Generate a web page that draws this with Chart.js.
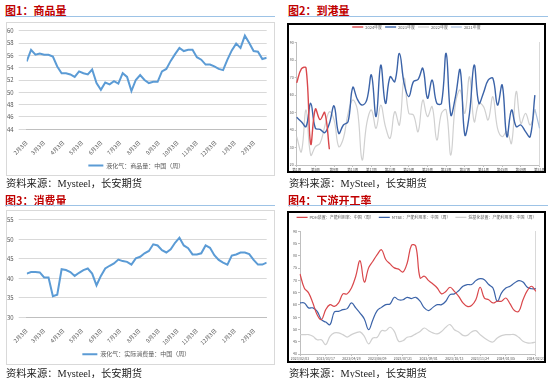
<!DOCTYPE html>
<html>
<head>
<meta charset="utf-8">
<script src="https://cdn.jsdelivr.net/npm/chart.js@4.4.1/dist/chart.umd.min.js"></script>
<style>
  body { margin: 0; width: 550px; height: 378px; background: #fff; position: relative; overflow: hidden; }
  .titulo { position: absolute; font: bold 11px "Noto Sans CJK SC", sans-serif; color: #c00000; line-height: 12px; white-space: nowrap; }
  .raya { position: absolute; height: 1.5px; background: #9dc3e6; }
  canvas { position: absolute; }
  .marco { position: absolute; box-sizing: border-box; pointer-events: none; }
  .fuente { position: absolute; font: 10.3px "Liberation Serif", "Noto Sans CJK SC", serif; line-height: 11px; color: #222; white-space: nowrap; }
</style>
</head>
<body>
<div class="titulo" style="left:5px;top:4px">图1：商品量</div>
<div class="raya" style="left:5px;top:15.5px;width:270px"></div>
<canvas id="c1" width="269" height="154" style="left:6px;top:22px"></canvas>
<div class="marco" style="left:6px;top:22px;width:269px;height:154px;border:1px solid #d9d9d9"></div>
<div class="fuente" style="left:6px;top:178px">资料来源：Mysteel，长安期货</div>

<div class="titulo" style="left:288px;top:4px">图2：到港量</div>
<div class="raya" style="left:288px;top:15.5px;width:260px"></div>
<canvas id="c2" width="259" height="150" style="left:287px;top:23px"></canvas>
<div class="marco" style="left:287px;top:23px;width:259px;height:150px;border:2px solid #000"></div>
<div class="fuente" style="left:289px;top:178px">资料来源：MySteel，长安期货</div>

<div class="titulo" style="left:5px;top:194px">图3：消费量</div>
<div class="raya" style="left:5px;top:204.5px;width:270px"></div>
<canvas id="c3" width="269" height="155" style="left:6px;top:210px"></canvas>
<div class="marco" style="left:6px;top:210px;width:269px;height:155px;border:1px solid #d9d9d9"></div>
<div class="fuente" style="left:6px;top:368px">资料来源：Mysteel，长安期货</div>

<div class="titulo" style="left:288px;top:194px">图4：下游开工率</div>
<div class="raya" style="left:288px;top:204.5px;width:260px"></div>
<canvas id="c4" width="259" height="152" style="left:287px;top:211px"></canvas>
<div class="marco" style="left:287px;top:211px;width:259px;height:152px;border:2px solid #000"></div>
<div class="fuente" style="left:289px;top:368px">资料来源：MySteel，长安期货</div>

<script>
// 图1 / 图3: weekly, 2023-02-03 .. 2024-02-23
const monthTicks = ['2月3日', '3月3日', '4月3日', '5月3日', '6月3日', '7月3日', '8月3日', '9月3日', '10月3日', '11月3日', '12月3日', '1月3日', '2月3日']
const supply = [55.0, 56.9, 56.1, 56.3, 56.1, 56.1, 55.8, 54.2, 53.1, 53.1, 52.9, 52.5, 53.4, 53.1, 52.9, 53.7, 51.5, 50.4, 51.6, 51.3, 51.8, 51.4, 53.1, 52.5, 50.2, 52.0, 52.8, 52.0, 51.5, 51.7, 51.7, 53.4, 53.8, 55.1, 56.2, 57.2, 56.7, 56.9, 56.9, 55.7, 55.3, 54.5, 54.5, 54.2, 53.8, 53.6, 55.3, 56.8, 57.9, 57.2, 59.2, 58.0, 56.7, 56.6, 55.4, 55.6]
const consumption = [41.2, 41.6, 41.6, 41.5, 40.2, 40.2, 35.4, 35.8, 42.3, 42.1, 41.6, 40.6, 41.4, 42.1, 42.5, 41.2, 38.2, 40.6, 42.5, 43.2, 43.8, 44.8, 44.4, 44.2, 43.5, 45.1, 45.5, 46.4, 47.0, 48.7, 48.4, 47.2, 46.6, 47.4, 49.1, 50.4, 48.4, 47.7, 46.1, 46.1, 46.4, 48.4, 47.8, 45.9, 44.7, 44.0, 43.5, 45.8, 46.1, 46.6, 46.6, 46.2, 44.7, 43.5, 43.5, 44.0]

// 图2: week 1..53 of each year
const arrivals2024 = [67, 75, 75.5, 32, 52, 46, 50, 29]
const arrivals2023 = [47.3, 44.8, 42.0, 55.3, 41.0, 40.4, 38.5, 43.8, 53.8, 38.1, 42.9, 44.8, 64.4, 57.6, 54.3, 57.2, 71.5, 47.7, 77.2, 55.3, 70.5, 67.7, 83.9, 66.7, 59.1, 67.7, 69.0, 75.3, 58.2, 68.6, 55.3, 55.3, 83.9, 48.6, 59.1, 74.4, 37.2, 49.6, 77.2, 55.3, 61.4, 68.6, 69.6, 54.3, 65.8, 36.2, 51.5, 42.0, 42.9, 39.1, 36.2, 60.0, null]
const arrivals2022 = [36.2, 27.6, 51.5, 25.7, 30.5, 32.4, 42.0, 50.5, 45.8, 30.5, 35.3, 49.6, 57.2, 51.5, 22.9, 43.8, 51.5, 41.0, 54.3, 42.0, 35.3, 50.5, 42.9, 69.6, 49.6, 48.6, 39.1, 57.2, 47.7, 53.4, 34.3, 49.6, 51.5, 25.7, 55.3, 62.9, 49.6, 70.5, 44.8, 55.3, 53.4, 45.8, 59.1, 41.0, 36.2, 39.1, 32.4, 62.0, 43.8, 49.6, 42.9, 51.5, null]
const arrivals2021 = [null, null, null, null, null, null, null, null, null, null, null, null, null, null, null, null, null, null, null, null, null, null, null, null, null, null, null, null, null, null, null, null, null, null, null, null, null, null, null, null, null, null, null, null, null, null, null, null, null, null, null, 52, 41]
const weekLabels = Array.from({ length: 53 }, (_, i) => `第${i + 1}周`)

// 图4: weekly operating rates
const rateTicks = ['2023/02/03', '2023/03/17', '2023/04/28', '2023/06/09', '2023/07/21', '2023/09/01', '2023/10/13', '2023/11/24', '2024/01/05', '2024/02/23']
const pdhRate = [72.6, 66.9, 64.9, 60.8, 56.0, 54.0, 58.1, 60.1, 59.4, 60.8, 64.5, 64.5, 66.9, 71.7, 78.0, 69.3, 75.1, 77.8, 80.5, 82.5, 78.5, 76.7, 75.1, 74.6, 73.4, 77.1, 84.3, 83.9, 71.0, 71.7, 69.9, 68.5, 66.9, 64.5, 65.5, 67.2, 65.5, 63.5, 60.8, 59.4, 59.8, 62.1, 67.2, 62.8, 62.1, 60.8, 61.5, 61.5, 62.8, 60.4, 57.7, 57.4, 62.1, 65.8, 67.6, 65.5]
const mtbeRate = [60.8, 60.8, 58.8, 58.8, 57.4, 54.0, 53.0, 52.0, 57.1, 57.4, 58.1, 58.5, 60.8, 58.8, 56.7, 54.3, 49.9, 54.0, 57.7, 59.0, 60.1, 60.4, 63.1, 62.1, 62.1, 63.1, 62.6, 63.1, 61.5, 58.8, 57.7, 59.0, 60.1, 60.1, 61.5, 64.2, 64.5, 65.8, 67.6, 68.3, 68.3, 69.9, 70.7, 70.3, 68.3, 66.9, 61.5, 64.9, 66.9, 67.6, 68.9, 69.9, 69.3, 67.2, 66.6, 66.6]
const alkyRate = [47.9, 47.9, 47.9, 47.2, 45.8, 45.8, 43.8, 47.2, 48.6, 48.6, 47.9, 46.9, 47.9, 48.6, 49.0, 47.2, 44.1, 46.5, 46.8, 49.5, 49.5, 50.9, 49.2, 45.2, 45.4, 46.8, 47.2, 48.2, 49.2, 50.6, 49.5, 48.6, 48.2, 49.2, 50.9, 52.0, 49.9, 49.0, 47.6, 47.6, 49.0, 49.5, 47.9, 46.5, 45.4, 44.9, 46.5, 47.5, 47.9, 47.9, 47.9, 46.8, 45.2, 44.5, 44.5, 44.9]

const start = Date.UTC(2023, 1, 3)
const dayMs = 86400000
const monthDays = monthTicks.map((_, k) => (Date.UTC(2023, 1 + k, 3) - start) / dayMs)
const dateLabels = pdhRate.map((_, i) => {
  const d = new Date(start + i * 7 * dayMs)
  return `${d.getUTCFullYear()}/${String(d.getUTCMonth() + 1).padStart(2, '0')}/${String(d.getUTCDate()).padStart(2, '0')}`
})

Chart.defaults.font.family = '"Noto Sans CJK SC", "Noto Sans", sans-serif'
Chart.defaults.color = '#595959'

function weeklyChart(id, label, values, yMin, yMax, top, xHeight, bottom) {
  return new Chart(document.getElementById(id), {
    type: 'line',
    data: {
      datasets: [{
        label,
        data: values.map((v, i) => ({ x: i * 7, y: v })),
        borderColor: '#5b9bd5',
        borderWidth: 2,
        pointRadius: 0,
        tension: 0
      }]
    },
    options: {
      responsive: false,
      animation: false,
      layout: { padding: { left: 0, top, right: 8.3, bottom } },
      plugins: {
        legend: { position: 'bottom', labels: { font: { size: 6 }, padding: 4, usePointStyle: true, pointStyle: 'line', pointStyleWidth: 15 } },
        tooltip: { enabled: false }
      },
      scales: {
        x: {
          type: 'linear', min: 0, max: (values.length - 1) * 7,
          afterBuildTicks: s => { s.ticks = monthDays.map(v => ({ value: v })) },
          afterFit: s => { s.height = xHeight },
          ticks: { font: { size: 5.5 }, minRotation: 45, maxRotation: 45, padding: 2, autoSkip: false, callback: (v, i) => monthTicks[i] },
          grid: { display: false },
          border: { color: '#bfbfbf' }
        },
        y: {
          min: yMin, max: yMax,
          afterFit: s => { s.width = 20.7 },
          ticks: { font: { size: 6 }, padding: 5, stepSize: yMin === 44 ? 2 : 5 },
          grid: { color: '#d9d9d9' },
          border: { display: false }
        }
      }
    }
  })
}

weeklyChart('c1', '液化气：商品量：中国（周）', supply, 44, 60, 8.7, 29.2, -2.5)
weeklyChart('c3', '液化气：实际消费量：中国（周）', consumption, 30, 55, 9.7, 29.9, -2.2)

function smoothChart(id, labels, datasets, yMin, yMax, step, opts) {
  return new Chart(document.getElementById(id), {
    type: 'line',
    data: {
      labels,
      datasets: datasets.map(d => ({ ...d, pointRadius: 0, tension: 0.4, spanGaps: false }))
    },
    options: {
      responsive: false,
      animation: false,
      layout: { padding: { left: 0, top: opts.top, right: 0, bottom: 0 } },
      plugins: {
        legend: { position: 'top', labels: { font: { size: 4 }, padding: opts.legendPad, usePointStyle: true, pointStyle: 'line', pointStyleWidth: 11 } },
        tooltip: { enabled: false }
      },
      scales: {
        x: {
          afterBuildTicks: s => { s.ticks = s.ticks.filter(t => opts.showTick(t.value)) },
          afterFit: s => { s.height = opts.xHeight },
          ticks: { font: { size: 3.5 }, padding: 1, maxRotation: 0, autoSkip: false },
          grid: { drawOnChartArea: false, tickLength: 2, color: '#bfbfbf' },
          border: { color: '#bfbfbf' }
        },
        xTop: {
          type: 'linear', position: 'top', min: 0, max: 1,
          afterFit: s => { s.height = opts.gap },
          ticks: { display: false }, grid: { display: false }, border: { display: false }
        },
        y: {
          min: yMin, max: yMax,
          afterFit: s => { s.width = opts.yWidth },
          ticks: { font: { size: 3.5 }, padding: 1, stepSize: step },
          grid: { drawOnChartArea: false, tickLength: 2, color: '#bfbfbf' },
          border: { color: '#bfbfbf' }
        },
        y2: {
          position: 'right', min: yMin, max: yMax,
          afterFit: s => { s.width = 6 },
          ticks: { display: false }, grid: { display: false },
          border: { color: '#d9d9d9' }
        }
      }
    }
  })
}

smoothChart('c2', weekLabels, [
  { label: '2024年度', data: arrivals2024, borderColor: '#d9474b', borderWidth: 1.4 },
  { label: '2023年度', data: arrivals2023, borderColor: '#3b63a8', borderWidth: 1.4 },
  { label: '2022年度', data: arrivals2022, borderColor: '#d0d0d0', borderWidth: 1.2 },
  { label: '2021年度', data: arrivals2021, borderColor: '#a9bfdd', borderWidth: 1.2 }
], 20, 90, 10, { top: -1, legendPad: 3, gap: 3.7, xHeight: 8, yWidth: 9.7, showTick: v => v % 4 === 0 })

smoothChart('c4', dateLabels, [
  { label: 'PDH装置：产能利用率：中国（周）', data: pdhRate, borderColor: '#d9474b', borderWidth: 1.2 },
  { label: 'MTBE：产能利用率：中国（周）', data: mtbeRate, borderColor: '#3b63a8', borderWidth: 1.2 },
  { label: '烷基化装置：产能利用率：中国（周）', data: alkyRate, borderColor: '#d0d0d0', borderWidth: 1.2 }
], 40, 90, 5, { top: -0.7, legendPad: 5, gap: 2, xHeight: 9, yWidth: 13, showTick: v => rateTicks.includes(dateLabels[v]) })
</script>
</body>
</html>
